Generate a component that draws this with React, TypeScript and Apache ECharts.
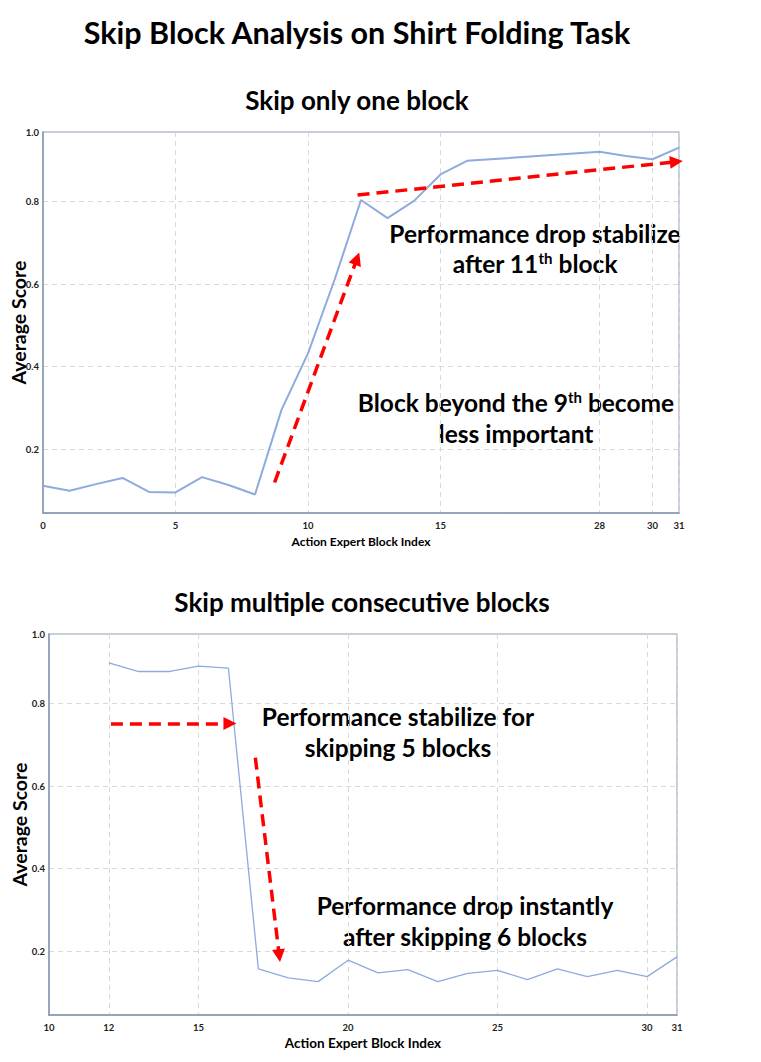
import React, { useEffect, useRef } from "react";
import * as echarts from "echarts";

// ---------- Data ----------
// Top: skip only one block
const topBlocks = [0, 1, 2, 3, 4, 5, 6, 7, 8, 9, 10, 11, 12, 13, 14, 15, 16, 28, 29, 30, 31];
const topScores = [0.111, 0.099, 0.115, 0.130, 0.096, 0.095, 0.132, 0.113, 0.090, 0.295, 0.432, 0.610, 0.804, 0.760, 0.802, 0.866, 0.899, 0.921, 0.911, 0.903, 0.931];
const topTickBlocks = [0, 5, 10, 15, 28, 30, 31];

// Bottom: skip multiple consecutive blocks
const bottomBlocks = [12, 13, 14, 15, 16, 17, 18, 19, 20, 21, 22, 23, 24, 25, 26, 27, 28, 29, 30, 31];
const bottomScores = [0.899, 0.878, 0.878, 0.891, 0.886, 0.157, 0.135, 0.126, 0.178, 0.147, 0.155, 0.126, 0.146, 0.153, 0.131, 0.157, 0.138, 0.153, 0.138, 0.186];
const bottomTickBlocks = [10, 12, 15, 20, 25, 30, 31];

const yTickValues = [0.2, 0.4, 0.6, 0.8];
const Y_MIN = 0.045;
const Y_MAX = 0.969;

// top axis is compressed between block 16 and block 28 (drawn as 5 slots)
const BREAK_AFTER = 16;
const BREAK_RESUME = 28;
const BREAK_SLOTS = 5;
const blockToSlot = (b: number) => (b <= BREAK_AFTER ? b : BREAK_AFTER + BREAK_SLOTS + (b - BREAK_RESUME));

const FONT = "Lato, 'Open Sans', sans-serif";
const LINE_COLOR = "#8FAADC";
const AXIS_COLOR = "#8497B0";
const GRID_COLOR = "#D9D9D9";
const RED = "#FF0000";

function yAxisCfg(gridIndex: number, nameGap: number) {
  return {
    type: "value",
    gridIndex,
    min: Y_MIN,
    max: Y_MAX,
    name: "Average Score",
    nameLocation: "middle",
    nameRotate: 90,
    nameGap,
    nameMoveOverlap: false,
    nameTextStyle: { fontFamily: FONT, fontWeight: "bold", fontSize: 19.5, color: "#000" },
    axisLine: { show: true, lineStyle: { color: AXIS_COLOR, width: 1.5 } },
    axisTick: { show: false, customValues: yTickValues },
    axisLabel: {
      customValues: [...yTickValues, Y_MAX],
      formatter: (v: number) => (v > 0.9 ? "1.0" : v.toFixed(1)),
      fontFamily: FONT,
      fontWeight: "bold",
      fontSize: 9.5,
      color: "#222",
      margin: 4,
    },
    splitLine: {
      show: true,
      customValues: yTickValues,
      lineStyle: { type: [5, 4], color: GRID_COLOR, width: 1 },
    },
  };
}

function arrow(from: number[], to: number[]) {
  return [{ coord: from, symbol: "none" }, { coord: to, symbol: "triangle" }];
}

export default function App() {
  const ref = useRef<HTMLDivElement>(null);

  useEffect(() => {
    if (!ref.current) return;
    const chart = echarts.init(ref.current, undefined, { renderer: "svg" });

    const topSlotTicks = topTickBlocks.map(blockToSlot);
    const topData = topBlocks.map((b, i) => [blockToSlot(b), topScores[i]]);
    const bottomData = bottomBlocks.map((b, i) => [b, bottomScores[i]]);

    const markLineBase = {
      silent: true,
      symbolSize: [13, 13],
      label: { show: false },
      lineStyle: { color: RED, width: 3.5, type: [12, 7] },
      emphasis: { disabled: true },
      animation: false,
    };

    const textStyle = (text: string, x: number, y: number, size = 24) => ({
      type: "text",
      x,
      y,
      silent: true,
      style: {
        text,
        fontFamily: FONT,
        fontWeight: "bold",
        fontSize: size,
        fill: "#000",
        align: "center",
        verticalAlign: "middle",
        rich: {
          sup: { fontFamily: FONT, fontWeight: "bold", fontSize: 15, fill: "#000", verticalAlign: "top", padding: [0, 0, 10, 0] },
        },
      },
    });

    const gridBase = {
      show: true,
      borderColor: "#B4BDD0",
      borderWidth: 1.5,
      containLabel: false,
      outerBoundsMode: "none",
    };

    const option: any = {
      animation: false,
      backgroundColor: "#fff",
      grid: [
        { ...gridBase, left: 43, top: 132, width: 636, height: 381 },
        { ...gridBase, left: 49, top: 634, width: 628, height: 381 },
      ],
      xAxis: [
        {
          type: "value",
          gridIndex: 0,
          min: 0,
          max: blockToSlot(31),
          name: "Action Expert Block Index",
          nameLocation: "middle",
          nameGap: 22,
          nameMoveOverlap: false,
          nameTextStyle: { fontFamily: FONT, fontWeight: "bold", fontSize: 12, color: "#000" },
          axisLine: { show: true, lineStyle: { color: AXIS_COLOR, width: 1.5 } },
          axisTick: { show: false, customValues: topSlotTicks },
          axisLabel: {
            customValues: topSlotTicks,
            formatter: (v: number) => {
              const b = topTickBlocks.find((t) => blockToSlot(t) === v);
              return b === undefined ? "" : String(b);
            },
            fontFamily: FONT,
            fontWeight: "bold",
            fontSize: 9.5,
            color: "#222",
            margin: 7,
          },
          splitLine: { show: true, customValues: topSlotTicks, lineStyle: { type: [5, 4], color: GRID_COLOR, width: 1 } },
        },
        {
          type: "value",
          gridIndex: 1,
          min: 10,
          max: 31,
          name: "Action Expert Block Index",
          nameLocation: "middle",
          nameGap: 21,
          nameMoveOverlap: false,
          nameTextStyle: { fontFamily: FONT, fontWeight: "bold", fontSize: 13.5, color: "#000" },
          axisLine: { show: true, lineStyle: { color: AXIS_COLOR, width: 1.5 } },
          axisTick: { show: false, customValues: bottomTickBlocks },
          axisLabel: {
            customValues: bottomTickBlocks,
            fontFamily: FONT,
            fontWeight: "bold",
            fontSize: 9.5,
            color: "#222",
            margin: 7,
          },
          splitLine: { show: true, customValues: bottomTickBlocks, lineStyle: { type: [5, 4], color: GRID_COLOR, width: 1 } },
        },
      ],
      yAxis: [yAxisCfg(0, 15), yAxisCfg(1, 20)],
      series: [
        {
          type: "line",
          xAxisIndex: 0,
          yAxisIndex: 0,
          data: topData,
          showSymbol: false,
          symbol: "none",
          lineStyle: { color: LINE_COLOR, width: 2 },
          silent: true,
          markLine: {
            ...markLineBase,
            data: [arrow([8.74, 0.119], [11.85, 0.662]), arrow([11.87, 0.816], [23.9, 0.897])],
          },
        },
        {
          type: "line",
          xAxisIndex: 1,
          yAxisIndex: 1,
          data: bottomData,
          showSymbol: false,
          symbol: "none",
          lineStyle: { color: LINE_COLOR, width: 1.3 },
          silent: true,
          markLine: {
            ...markLineBase,
            data: [arrow([12.07, 0.752], [16.05, 0.752]), arrow([16.9, 0.669], [17.7, 0.189])],
          },
        },
      ],
      graphic: [
        textStyle("Skip Block Analysis on Shirt Folding Task", 357, 32, 30.5),
        textStyle("Skip only one block", 357, 100, 26),
        textStyle("Skip multiple consecutive blocks", 362, 602, 26),
        textStyle("Performance drop stabilize", 535, 233, 24.5),
        textStyle("after 11{sup|th} block", 535, 263, 24.5),
        textStyle("Block beyond the 9{sup|th} become", 516, 402, 24.5),
        textStyle("less important", 516, 433, 24.5),
        textStyle("Performance stabilize for", 398, 716, 24.5),
        textStyle("skipping 5 blocks", 398, 747, 24.5),
        textStyle("Performance drop instantly", 465, 905, 24.5),
        textStyle("after skipping 6 blocks", 465, 936, 24.5),
      ],
    };

    chart.setOption(option);
    return () => chart.dispose();
  }, []);

  return (
    <div
      ref={ref}
      style={{ position: "absolute", left: 0, top: 0, width: 761, height: 1062, background: "#fff" }}
    />
  );
}
